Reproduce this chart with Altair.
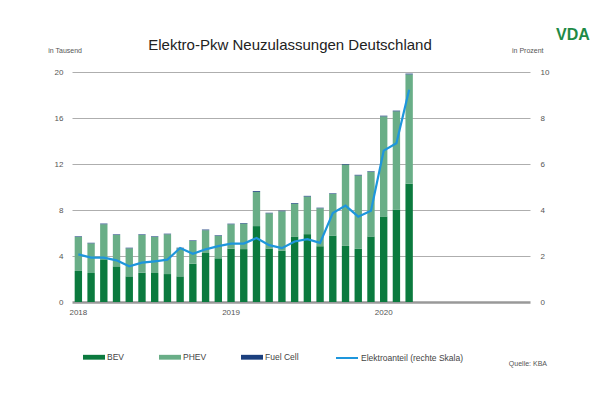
import altair as alt
import pandas as pd

months = [f"{y}-{m:02d}" for y in (2018, 2019, 2020) for m in range(1, 13)]
data_months = months[:27]

bev = [2.70, 2.52, 3.71, 3.10, 2.23, 2.55, 2.52, 2.43, 2.23, 3.33, 4.26, 3.80,
       4.64, 4.60, 6.60, 4.65, 4.45, 5.70, 5.90, 4.85, 5.78, 4.88, 4.62, 5.70,
       7.44, 8.05, 10.29]
phev = [2.96, 2.58, 3.05, 2.73, 2.44, 3.28, 3.14, 3.46, 2.44, 1.98, 1.98, 1.95,
        2.12, 2.22, 2.98, 3.06, 3.44, 2.85, 3.27, 3.30, 3.62, 7.07, 6.38, 5.62,
        8.70, 8.53, 9.50]
fuel = [0.05, 0.05, 0.06, 0.05, 0.05, 0.05, 0.05, 0.05, 0.05, 0.05, 0.06, 0.05,
        0.05, 0.05, 0.07, 0.05, 0.05, 0.06, 0.06, 0.05, 0.05, 0.05, 0.06, 0.05,
        0.06, 0.06, 0.07]
share = [2.07, 1.93, 1.93, 1.81, 1.55, 1.71, 1.77, 1.84, 2.35, 2.10, 2.29, 2.43,
         2.54, 2.54, 2.78, 2.47, 2.34, 2.63, 2.73, 2.57, 3.87, 4.19, 3.71, 3.97,
         6.58, 6.90, 9.23]

series = ["BEV", "PHEV", "Fuel Cell"]
colors = ["#0b7a3e", "#69ae87", "#1b3f7e"]
line_name = "Elektroanteil (rechte Skala)"

rows = []
for i, m in enumerate(data_months):
    for k, (s, v) in enumerate(zip(series, (bev[i], phev[i], fuel[i]))):
        rows.append({"month": m, "series": s, "value": v, "ord": k})
bars_df = pd.DataFrame(rows)
line_df = pd.DataFrame({"month": data_months, "share": share, "name": line_name})

FONT = "Liberation Sans"
W, H = 458, 230

xenc = alt.X("month:O", scale=alt.Scale(domain=months, paddingInner=0.42, paddingOuter=0.21),
             axis=alt.Axis(title=None, labelAngle=0, ticks=False, domain=False,
                           labelExpr="substring(datum.value, 5) == '01' ? substring(datum.value, 0, 4) : ''",
                           labelFontSize=8, labelColor="#555", labelFont=FONT, labelPadding=6))

bars = alt.Chart(bars_df).mark_bar().encode(
    x=xenc,
    y=alt.Y("sum(value):Q", stack="zero", scale=alt.Scale(domain=[0, 20], nice=False),
            axis=alt.Axis(title=None, values=[0, 4, 8, 12, 16, 20], ticks=False, domain=False,
                          labelFontSize=8, labelColor="#555", labelFont=FONT, labelPadding=9,
                          gridColor="#999", gridOpacity=1,
                          gridWidth={"condition": {"test": "datum.value === 0", "value": 2.5}, "value": 0.8})),
    color=alt.Color("series:N", scale=alt.Scale(domain=series, range=colors),
                    legend=alt.Legend(title=None, orient="none", legendX=11, legendY=274,
                                      direction="horizontal", symbolType="M-1,-0.22H1V0.22H-1Z",
                                      symbolSize=484, symbolStrokeWidth=0, symbolOpacity=1,
                                      labelFontSize=8.5, labelColor="#444", labelFont=FONT,
                                      labelOffset=2, columnPadding=34, padding=0)),
    order=alt.Order("ord:Q"),
)

line = alt.Chart(line_df).mark_line(strokeWidth=2.2).encode(
    x=alt.X("month:O"),
    y=alt.Y("share:Q", scale=alt.Scale(domain=[0, 10], nice=False),
            axis=alt.Axis(title=None, orient="right", values=[0, 2, 4, 6, 8, 10], ticks=False,
                          domain=False, grid=False, labelFontSize=8, labelColor="#555",
                          labelFont=FONT, labelPadding=10)),
    stroke=alt.Stroke("name:N", scale=alt.Scale(domain=[line_name], range=["#1e96dc"]),
                      legend=alt.Legend(title=None, orient="none", legendX=263, legendY=274,
                                        symbolType="stroke", symbolSize=484, symbolStrokeWidth=2,
                                        labelFontSize=8.5, labelColor="#444", labelFont=FONT,
                                        labelOffset=2, padding=0)),
)

def txt(s, x, y, size, align="left", color="#333", weight="normal"):
    return alt.Chart(pd.DataFrame({"t": [s]})).mark_text(
        align=align, baseline="middle", fontSize=size, font=FONT, color=color, fontWeight=weight
    ).encode(x=alt.value(x), y=alt.value(y), text="t:N")

title = txt("Elektro-Pkw Neuzulassungen Deutschland", 218, -27, 15, "center", "#222")
lt = txt("in Tausend", 10, -21, 7, "right", "#555")
rt = txt("in Prozent", 440, -21, 7, "left", "#555")
logo = txt("VDA", 501, -37, 16, "center", "#1e8a46", "bold")
src = txt("Quelle: KBA", 475, 292, 7, "right", "#555")

chart = alt.layer(bars, line, title, lt, rt, logo, src).resolve_scale(
    y="independent", color="independent"
).properties(
    width=W, height=H,
    autosize=alt.AutoSizeParams(type="none"),
    padding={"left": 64, "top": 64, "right": 62, "bottom": 80},
).configure_view(stroke=None)

chart.save("out.html", embed_options={"renderer": "svg", "actions": False})
